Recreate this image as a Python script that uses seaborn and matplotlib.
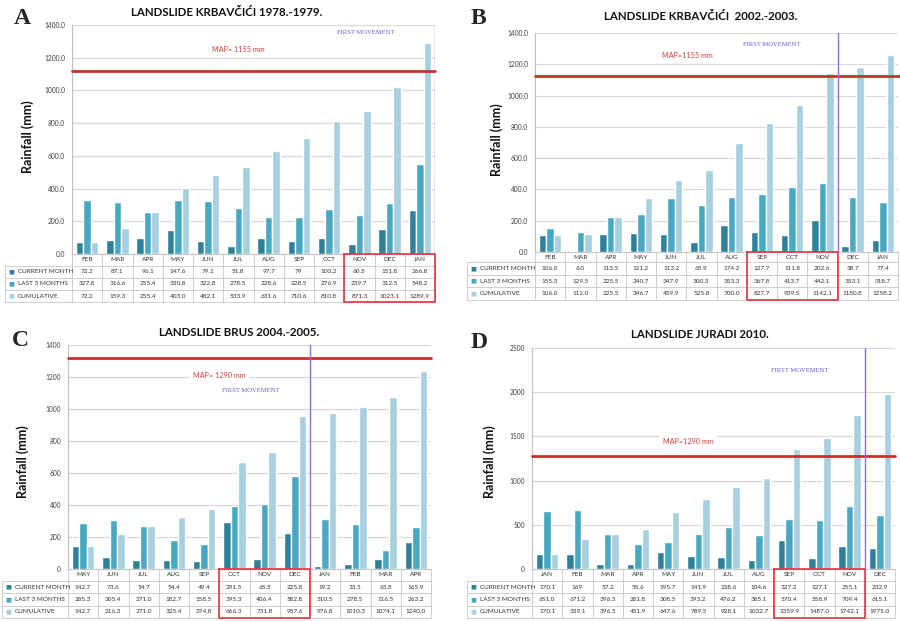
import numpy as np
import pandas as pd
import matplotlib
matplotlib.use("Agg")
import matplotlib.pyplot as plt
import seaborn as sns

sns.set_theme(style="white")
plt.rcParams['font.family'] = ['Lato', 'DejaVu Sans']

W, H = 900, 621

series_names = ["CURRENT MONTH", "LAST 3 MONTHS", "CUMULATIVE"]
colors = ["#2F8199", "#47A8C2", "#A6D0DF"]

# ---------------- Panel A ----------------
title_A = "LANDSLIDE KRBAVČIĆI 1978.-1979."
months_A = ["FEB", "MAR", "APR", "MAY", "JUN", "JUL", "AUG", "SEP", "OCT", "NOV", "DEC", "JAN"]
cur_A = ["72.2", "87.1", "96.1", "147.6", "79.1", "51.8", "97.7", "79", "100.2", "60.5", "151.8", "266.8"]
last3_A = ["327.8", "316.6", "255.4", "330.8", "322.8", "278.5", "228.6", "228.5", "276.9", "239.7", "312.5", "548.2"]
cum_A = ["72.2", "159.3", "255.4", "403.0", "482.1", "533.9", "631.6", "710.6", "810.8", "871.3", "1023.1", "1289.9"]
map_label_A = "MAP= 1155 mm"
map_level_A = 1120
first_move_A = 11.5
box_A = (9, 11)

# ---------------- Panel B ----------------
title_B = "LANDSLIDE KRBAVČIĆI  2002.-2003."
months_B = ["FEB", "MAR", "APR", "MAY", "JUN", "JUL", "AUG", "SEP", "OCT", "NOV", "DEC", "JAN"]
cur_B = ["106.0", "6.0", "113.5", "121.2", "113.2", "65.9", "174.2", "127.7", "111.8", "202.6", "38.7", "77.4"]
last3_B = ["155.3", "129.5", "225.5", "240.7", "347.9", "300.3", "353.3", "367.8", "413.7", "442.1", "353.1", "318.7"]
cum_B = ["106.0", "112.0", "225.5", "346.7", "459.9", "525.8", "700.0", "827.7", "939.5", "1142.1", "1180.8", "1258.2"]
map_label_B = "MAP=1155 mm"
map_level_B = 1125
first_move_B = 9.5
box_B = (7, 9)

# ---------------- Panel C ----------------
title_C = "LANDSLIDE BRUS 2004.-2005."
months_C = ["MAY", "JUN", "JUL", "AUG", "SEP", "OCT", "NOV", "DEC", "JAN", "FEB", "MAR", "APR"]
cur_C = ["142.7", "73.6", "54.7", "54.4", "49.4", "291.5", "65.5", "225.8", "19.2", "33.5", "63.8", "165.9"]
last3_C = ["285.3", "305.4", "271.0", "182.7", "158.5", "395.3", "406.4", "582.8", "310.5", "278.5", "116.5", "263.2"]
cum_C = ["142.7", "216.3", "271.0", "325.4", "374.8", "666.3", "731.8", "957.6", "976.8", "1010.3", "1074.1", "1240.0"]
map_label_C = "MAP= 1290 mm"
map_level_C = 1320
first_move_C = 7.5
box_C = (5, 7)

# ---------------- Panel D ----------------
title_D = "LANDSLIDE JURADI 2010."
months_D = ["JAN", "FEB", "MAR", "APR", "MAY", "JUN", "JUL", "AUG", "SEP", "OCT", "NOV", "DEC"]
cur_D = ["170.1", "169", "57.2", "55.6", "195.7", "141.9", "138.6", "104.6", "327.2", "127.1", "255.1", "232.9"]
last3_D = ["651.0", "671.2", "396.3", "281.8", "308.5", "393.2", "476.2", "385.1", "570.4", "558.9", "709.4", "615.1"]
cum_D = ["170.1", "339.1", "396.3", "451.9", "647.6", "789.5", "928.1", "1032.7", "1359.9", "1487.0", "1742.1", "1975.0"]
map_label_D = "MAP=1290 mm"
map_level_D = 1280
first_move_D = 10.5
box_D = (8, 10)

yticks_AB = [0, 200, 400, 600, 800, 1000, 1200, 1400]
yticks_C = [0, 200, 400, 600, 800, 1000, 1200, 1400]
yticks_D = [0, 500, 1000, 1500, 2000, 2500]

panels = [
    dict(letter="A", title=title_A, months=months_A, rows=[cur_A, last3_A, cum_A],
         map_label=map_label_A, map_level=map_level_A, first=first_move_A, box=box_A,
         yticks=yticks_AB, fmt="{:.1f}",
         plot=(72, 25, 435, 254), table=(254, 11.5, 12.2), lab_left=5,
         letter_xy=(22, 19), title_xy=(227, 13), ylabel_xy=(28, 137),
         map_xy=(238, 49), first_xy=(366, 33), line_right=435),
    dict(letter="B", title=title_B, months=months_B, rows=[cur_B, last3_B, cum_B],
         map_label=map_label_B, map_level=map_level_B, first=first_move_B, box=box_B,
         yticks=yticks_AB, fmt="{:.1f}",
         plot=(535, 33, 898, 252), table=(252, 10.5, 12.5), lab_left=467,
         letter_xy=(478, 19), title_xy=(701, 16), ylabel_xy=(497, 140),
         map_xy=(687, 56), first_xy=(772, 45), line_right=900),
    dict(letter="C", title=title_C, months=months_C, rows=[cur_C, last3_C, cum_C],
         map_label=map_label_C, map_level=map_level_C, first=first_move_C, box=box_C,
         yticks=yticks_C, fmt="{:d}",
         plot=(68, 345, 431, 569), table=(569, 12, 12.3), lab_left=2,
         letter_xy=(20, 340), title_xy=(239, 332), ylabel_xy=(23, 462),
         map_xy=(219, 376), first_xy=(251, 390), line_right=431),
    dict(letter="D", title=title_D, months=months_D, rows=[cur_D, last3_D, cum_D],
         map_label=map_label_D, map_level=map_level_D, first=first_move_D, box=box_D,
         yticks=yticks_D, fmt="{:d}",
         plot=(532, 348, 895, 569), table=(569, 12, 12.3), lab_left=467,
         letter_xy=(479, 342), title_xy=(700, 335), ylabel_xy=(490, 462),
         map_xy=(688, 441), first_xy=(800, 371), line_right=895),
]

fig = plt.figure(figsize=(W / 100, H / 100), dpi=100)
fig.patch.set_facecolor("white")


def fig_rect(x0, y0, x1, y1):
    return [x0 / W, 1 - y1 / H, (x1 - x0) / W, (y1 - y0) / H]


def fx(x):
    return x / W


def fy(y):
    return 1 - y / H


grid_col = "#D9D9D9"
table_col = "#C8C8C8"
red_box = "#E2343F"
map_red = "#C9302C"
purple = "#8A6FE6"

for p in panels:
    x0, y0, x1, y1 = p["plot"]
    ax = fig.add_axes(fig_rect(x0, y0, x1, y1))
    recs = []
    for s, vals in zip(series_names, p["rows"]):
        for m, v in zip(p["months"], vals):
            recs.append({"month": m, "series": s, "value": float(v)})
    df = pd.DataFrame(recs)
    sns.barplot(data=df, x="month", y="value", hue="series", order=p["months"],
                hue_order=series_names, palette=colors, saturation=1, width=0.74,
                errorbar=None, legend=False, ax=ax, zorder=3)
    ax.set_xlim(-0.5, 11.5)
    ax.set_ylim(0, p["yticks"][-1])
    ax.set_yticks(p["yticks"])
    ax.set_yticklabels([p["fmt"].format(t) for t in p["yticks"]])
    ax.set_xticks([])
    ax.set_xlabel("")
    ax.set_ylabel("")
    ax.grid(axis="y", color=grid_col, lw=0.9)
    ax.set_axisbelow(True)
    for side in ["top", "right"]:
        ax.spines[side].set_visible(False)
    for side in ["left", "bottom"]:
        ax.spines[side].set_color("#BFBFBF")
        ax.spines[side].set_linewidth(0.8)
    ax.tick_params(axis="y", length=0, labelsize=4.8, pad=5, labelcolor="#404040")
    ax.set_facecolor("white")

    # MAP line and first movement line
    ax.axhline(p["map_level"], color=map_red, lw=2.0, zorder=6, clip_on=False,
               xmax=(p["line_right"] - x0) / (x1 - x0))
    ax.axvline(p["first"], color=purple, lw=1.0, zorder=7)

    # texts
    fig.text(fx(p["letter_xy"][0]), fy(p["letter_xy"][1]), p["letter"],
             family="Liberation Serif", fontweight="bold", fontsize=17,
             ha="center", va="center")
    fig.text(fx(p["title_xy"][0]), fy(p["title_xy"][1]), p["title"],
             fontweight="bold", fontsize=8.3, ha="center", va="center", color="#111111")
    fig.text(fx(p["ylabel_xy"][0]), fy(p["ylabel_xy"][1]), "Rainfall (mm)",
             fontweight="bold", fontsize=9, rotation=90, ha="center", va="center",
             color="#111111")
    fig.text(fx(p["map_xy"][0]), fy(p["map_xy"][1]), p["map_label"], color="#D0403C",
             fontsize=5.2, ha="center", va="center", zorder=8,
             bbox=dict(facecolor="white", edgecolor="none", pad=2.5))
    fig.text(fx(p["first_xy"][0]), fy(p["first_xy"][1]), "FIRST MOVEMENT",
             color="#6F58D0", family="Liberation Serif", fontsize=4.8,
             ha="center", va="center")

    # table
    ttop, hh, rh = p["table"]
    total = hh + 3 * rh
    tax = fig.add_axes(fig_rect(x0, ttop, x1, ttop + total))
    tax.set_xlim(-0.5, 11.5)
    tax.set_ylim(total, 0)
    tax.axis("off")
    colw = (x1 - x0) / 12.0
    xl = -0.5 - (x0 - p["lab_left"]) / colw
    edges = [0, hh, hh + rh, hh + 2 * rh, hh + 3 * rh]
    lw = 0.6
    # horizontal lines
    tax.plot([-0.5, 11.5], [0, 0], color=table_col, lw=lw, clip_on=False)
    for e in edges[1:]:
        tax.plot([xl, 11.5], [e, e], color=table_col, lw=lw, clip_on=False)
    # vertical lines
    for k in range(13):
        xv = k - 0.5
        tax.plot([xv, xv], [0, total], color=table_col, lw=lw, clip_on=False)
    tax.plot([xl, xl], [hh, total], color=table_col, lw=lw, clip_on=False)
    # month header
    for i, m in enumerate(p["months"]):
        tax.text(i, hh / 2, m, fontsize=4.6, ha="center", va="center",
                 color="#303030", clip_on=False)
    # rows
    for r, (s, vals) in enumerate(zip(series_names, p["rows"])):
        yc = hh + rh * (r + 0.5)
        tax.text(xl + 0.12, yc, "■", fontsize=4.5, color=colors[r], ha="left",
                 va="center", family="DejaVu Sans", clip_on=False)
        tax.text(xl + 0.42, yc, s, fontsize=4.6, ha="left", va="center",
                 color="#303030", clip_on=False)
        for i, v in enumerate(vals):
            tax.text(i, yc, v, fontsize=4.6, ha="center", va="center",
                     color="#303030", clip_on=False)
    # red box
    b0, b1 = p["box"]
    tax.plot([b0 - 0.5, b1 + 0.5, b1 + 0.5, b0 - 0.5, b0 - 0.5],
             [0.3, 0.3, total, total, 0.3], color=red_box, lw=1.2, clip_on=False,
             zorder=5)

fig.savefig("out.png", dpi=100, facecolor="white")
